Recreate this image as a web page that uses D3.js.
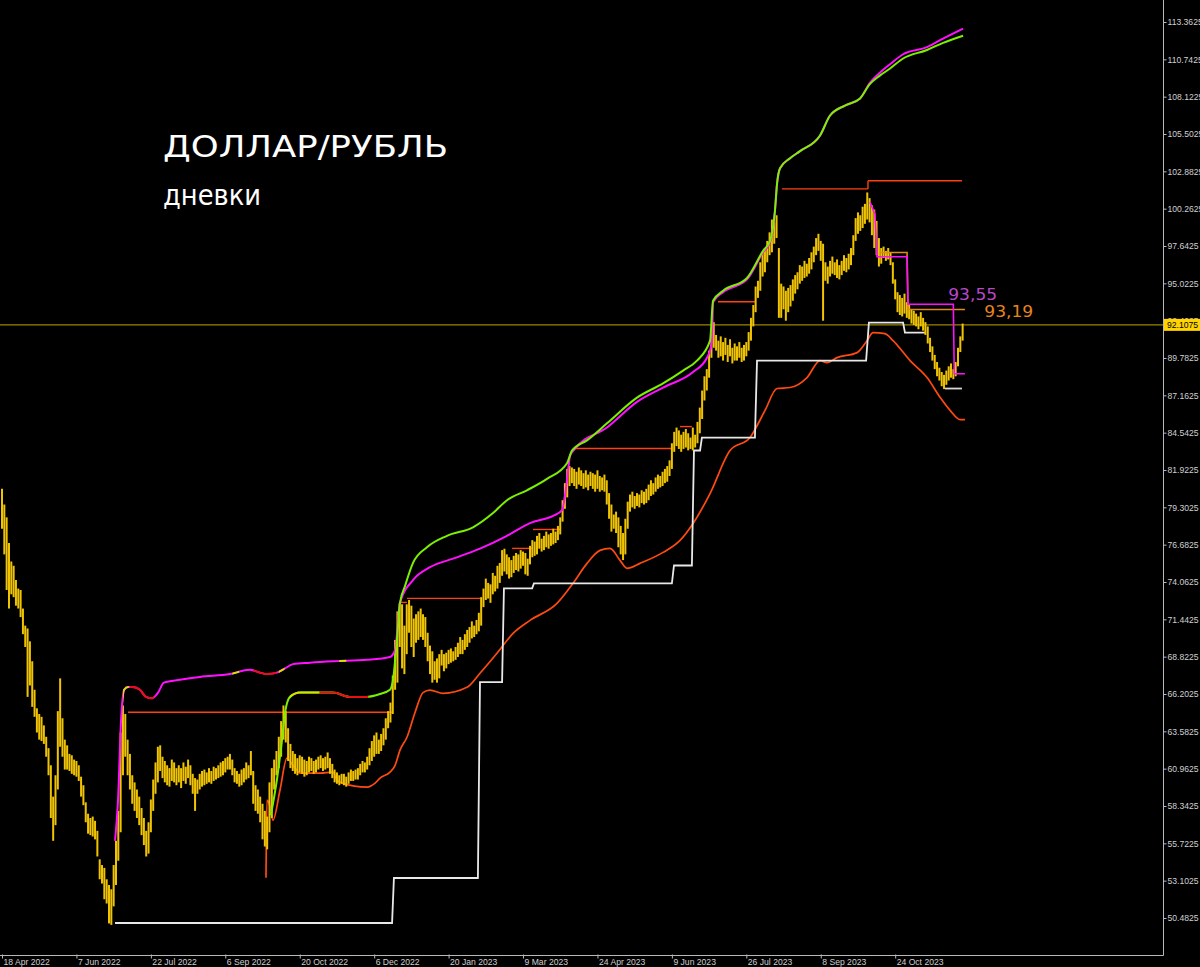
<!DOCTYPE html>
<html>
<head>
<meta charset="utf-8">
<script src="https://d3js.org/d3.v7.min.js"></script>
<style>
  body { margin: 0; background: #000; overflow: hidden; }
</style>
</head>
<body>
<script>
// daily bars, USD/RUB, 18 Apr 2022 .. early Dec 2023 (bar index 0..413)
const barHigh = [
  80.6, 79.5, 78.6, 76.8, 75.5, 75.2, 74.2, 73.6, 73.5, 72.2,
  71.0, 70.8, 69.9, 68.5, 66.5, 65.2, 64.8, 64.6, 64.0, 63.2,
  62.4, 61.2, 59.0, 60.5, 65.0, 67.3, 64.5, 63.0, 62.6, 62.0,
  61.9, 61.6, 61.5, 61.2, 60.4, 59.8, 58.6, 57.8, 57.5, 57.6,
  57.3, 56.6, 54.6, 54.2, 54.0, 53.2, 52.8, 52.5, 54.2, 55.9,
  58.0, 63.5, 65.4, 64.8, 63.0, 62.0, 60.5, 60.0, 59.5, 59.0,
  58.2, 57.5, 56.6, 57.2, 58.8, 60.2, 61.4, 62.5, 62.6, 61.8,
  61.5, 61.2, 61.0, 61.6, 61.4, 61.0, 61.2, 61.0, 61.4, 61.1,
  61.6, 61.2, 60.6, 60.3, 60.2, 60.6, 60.8, 60.9, 60.7, 61.0,
  60.8, 61.1, 61.0, 61.2, 61.4, 61.5, 61.7, 61.8, 62.0, 61.6,
  61.0, 60.8, 60.6, 60.9, 61.0, 61.4, 61.2, 62.2, 60.8, 59.8,
  59.5, 59.0, 58.5, 58.0, 57.6, 60.0, 61.0, 61.6, 62.2, 63.2,
  64.3, 65.4, 65.0, 63.8, 62.7, 62.2, 62.0, 61.7, 61.9, 61.8,
  61.6, 61.5, 61.8, 61.7, 61.5, 61.6, 61.8, 61.9, 61.7, 61.8,
  62.1, 61.7, 61.3, 60.9, 60.7, 60.5, 60.6, 60.6, 60.4, 60.7,
  60.9, 60.8, 60.9, 61.0, 61.3, 61.5, 61.4, 61.8, 62.4, 62.9,
  63.3, 63.5, 63.0, 63.4, 63.8, 64.5, 65.0, 65.6, 67.5, 70.0,
  72.0, 72.6, 72.5, 71.0, 72.5, 72.8, 72.4, 71.5, 71.8, 72.0,
  72.2, 71.8, 71.6, 70.5, 69.6, 69.2, 68.5, 68.7, 69.0, 69.3,
  69.0, 69.1, 69.3, 69.4, 69.2, 69.5, 69.8, 70.2, 70.0, 70.4,
  70.7, 70.9, 71.3, 71.0, 71.4, 71.9, 73.0, 73.6, 74.3, 74.0,
  73.9, 74.7, 74.5, 75.2, 75.4, 76.3, 76.4, 76.0, 75.8, 75.6,
  75.9, 76.1, 76.0, 76.3, 76.2, 76.1, 75.7, 76.6, 77.0, 76.9,
  77.3, 77.5, 77.1, 77.3, 77.6, 77.4, 77.5, 77.8, 77.6, 78.0,
  78.6, 79.8, 81.0, 82.0, 82.2, 82.1, 82.0, 81.8, 82.1, 81.9,
  81.7, 81.9, 81.6, 81.8, 81.7, 81.6, 81.9, 81.5, 81.4, 81.6,
  81.2, 80.3, 79.5, 78.8, 79.0, 78.6, 78.0, 77.5, 78.5, 79.7,
  80.2, 80.4, 80.1, 80.3, 80.2, 80.5, 80.4, 80.6, 80.9, 81.2,
  81.0, 81.4, 81.6, 81.5, 81.8, 82.0, 82.2, 82.6, 83.8, 84.6,
  84.9, 84.7, 84.4, 84.6, 84.8, 84.5, 84.2, 84.9, 84.4, 85.3,
  86.3, 87.5, 88.5, 89.0, 90.3, 91.5, 92.3, 91.4, 91.0, 91.3,
  90.9, 91.2, 90.7, 91.1, 90.5, 90.8, 90.6, 90.9, 90.5, 90.7,
  90.9, 91.6, 92.6, 93.5, 94.8, 95.2, 96.5, 97.2, 97.5, 98.0,
  98.6, 99.5, 99.3, 99.8, 97.5, 95.0, 94.8, 94.5, 94.7, 94.9,
  95.3, 95.6, 95.8, 96.3, 96.2, 96.6, 96.4, 96.8, 97.2, 97.6,
  98.2, 98.5, 98.0, 97.8, 96.5, 96.2, 96.6, 96.9, 96.5, 96.7,
  96.3, 96.6, 97.0, 96.8, 97.1, 97.5, 98.4, 99.6, 100.0, 99.8,
  100.4, 100.6, 101.4, 101.0, 100.5, 100.2, 99.4, 98.2, 97.5, 97.6,
  97.3, 97.5, 97.2, 96.5, 95.3, 94.4, 94.2, 94.0, 94.3, 93.7,
  93.5, 93.2, 93.1, 92.9, 92.7, 93.0, 92.6, 92.3, 92.0, 91.2,
  90.6, 90.0, 89.5, 89.1, 88.8, 88.6, 88.9, 89.2, 89.4, 89.0,
  89.5, 90.5, 91.3, 92.2
];
const barLow = [
  77.8, 76.0, 73.5, 72.2, 73.2, 73.0, 72.4, 72.2, 71.6, 70.4,
  69.5, 66.0, 66.8, 65.3, 64.6, 63.5, 63.0, 62.9, 62.7, 61.8,
  60.5, 57.5, 55.9, 57.0, 59.5, 62.5, 61.8, 60.9, 60.9, 60.8,
  60.6, 60.5, 60.4, 60.1, 59.0, 58.4, 57.2, 56.4, 56.3, 56.2,
  56.0, 54.8, 53.2, 52.9, 51.8, 51.5, 50.1, 50.0, 51.3, 52.8,
  54.5, 56.5, 60.5, 61.8, 60.5, 59.5, 58.5, 58.0, 57.5, 57.0,
  56.3, 55.6, 54.8, 55.0, 56.5, 58.0, 59.2, 60.0, 60.8, 60.3,
  60.0, 59.8, 59.7, 60.1, 60.0, 59.8, 60.0, 59.6, 60.1, 59.9,
  60.3, 59.8, 59.2, 58.0, 59.2, 59.5, 59.7, 59.8, 59.9, 60.0,
  59.9, 60.1, 60.2, 60.3, 60.4, 60.5, 60.7, 60.9, 60.9, 60.5,
  60.0, 59.9, 59.7, 59.8, 60.0, 60.2, 60.3, 60.5, 58.5, 58.0,
  57.8, 57.2, 56.0, 55.5, 55.3, 56.5, 57.5, 59.5, 60.5, 61.0,
  61.8, 63.0, 62.8, 61.5, 61.0, 60.8, 60.6, 60.5, 60.7, 60.6,
  60.4, 60.5, 60.7, 60.8, 60.6, 60.7, 60.9, 61.0, 60.8, 60.9,
  61.0, 60.6, 60.3, 60.0, 59.9, 59.8, 59.9, 59.8, 59.7, 59.9,
  60.1, 60.1, 60.2, 60.2, 60.5, 60.7, 60.7, 60.9, 61.2, 61.5,
  61.8, 62.0, 62.0, 62.2, 62.6, 63.0, 63.8, 64.2, 64.8, 66.5,
  67.0, 69.5, 68.0, 67.6, 69.0, 70.5, 69.5, 68.8, 69.8, 70.0,
  70.2, 70.0, 69.5, 68.5, 67.6, 67.0, 67.2, 67.0, 67.3, 68.2,
  67.8, 68.0, 68.3, 68.4, 68.5, 68.6, 68.8, 69.0, 69.0, 69.3,
  69.5, 69.8, 70.1, 70.2, 70.4, 70.6, 71.0, 72.3, 72.8, 72.9,
  72.6, 73.2, 73.4, 73.6, 74.0, 74.5, 74.8, 74.6, 74.3, 74.4,
  74.7, 74.9, 74.8, 75.0, 75.2, 74.6, 74.5, 75.3, 75.8, 75.9,
  76.0, 76.4, 76.2, 76.3, 76.5, 76.4, 76.6, 76.7, 76.8, 77.0,
  77.4, 78.3, 79.2, 80.0, 80.8, 81.0, 80.8, 80.6, 80.9, 80.8,
  80.6, 80.7, 80.5, 80.8, 80.6, 80.4, 80.6, 80.4, 80.5, 80.4,
  79.5, 78.5, 77.6, 77.8, 77.5, 76.5, 76.0, 75.6, 76.0, 77.8,
  79.0, 79.3, 79.2, 79.4, 79.3, 79.6, 79.5, 79.6, 79.8, 80.1,
  80.2, 80.4, 80.6, 80.7, 80.8, 81.0, 81.1, 81.5, 82.0, 83.2,
  83.6, 83.4, 83.2, 83.4, 83.5, 83.3, 83.4, 83.3, 83.5, 83.8,
  84.5, 85.5, 86.8, 87.5, 88.4, 89.8, 90.5, 90.3, 89.8, 89.9,
  89.6, 90.0, 89.5, 89.9, 89.4, 89.6, 89.6, 89.8, 89.5, 89.6,
  89.9, 90.3, 91.0, 92.0, 93.0, 94.0, 94.5, 95.5, 95.8, 96.5,
  97.0, 97.2, 97.8, 98.2, 92.6, 92.6, 93.2, 92.4, 93.0, 93.4,
  93.8, 94.3, 94.6, 95.0, 95.2, 95.4, 95.5, 95.7, 96.0, 96.5,
  97.0, 97.3, 96.6, 92.4, 95.2, 95.0, 95.5, 95.7, 95.6, 95.4,
  95.3, 95.6, 95.9, 95.8, 96.0, 96.3, 97.0, 98.0, 98.5, 98.7,
  98.9, 99.2, 99.5, 99.3, 98.4, 97.5, 97.0, 96.2, 96.4, 96.8,
  96.6, 96.7, 96.3, 95.0, 93.9, 93.0, 92.8, 92.7, 92.9, 92.6,
  92.5, 92.2, 92.1, 92.0, 91.8, 92.0, 91.7, 91.4, 90.8, 90.2,
  89.6, 89.0, 88.5, 88.2, 87.8, 87.6, 87.9, 88.2, 88.4, 88.3,
  88.5, 89.2, 90.2, 91.0
];
const lastPrice = 92.1075;

// indicator lines: [bar index, price]
const greenBand = [
  [115.6, 57.7], [118.2, 60.2], [120.4, 63.0], [121.7, 64.9], [123.8, 66.0],
  [128.1, 66.3], [136.7, 66.3], [142.3, 66.3], [149.6, 66.0], [156.9, 66.0],
  [162.5, 66.2], [166.8, 66.5], [168.1, 67.2], [169.8, 70.0], [171.1, 72.6],
  [173.3, 73.8], [176.7, 75.4], [182.7, 76.5], [191.3, 77.3], [202.5, 77.9],
  [211.1, 78.9], [217.1, 79.8], [225.7, 80.5], [234.3, 81.3], [242.9, 82.4],
  [245.1, 83.3], [251.5, 84.0], [260.1, 85.2], [273.0, 87.0], [284.2, 88.0],
  [292.8, 88.9], [298.8, 89.6], [304.4, 91.0], [305.7, 93.8], [310.0, 94.5],
  [320.3, 95.4], [327.2, 97.3], [330.2, 98.0], [332.3, 100.1], [333.2, 102.0],
  [334.5, 103.1], [338.8, 103.8], [343.1, 104.3], [351.7, 105.4], [356.0, 106.8],
  [362.4, 107.5], [368.9, 108.0], [373.1, 109.0], [377.4, 109.6], [381.8, 110.1],
  [387.4, 110.8], [397.7, 111.4], [404.6, 111.9], [413.2, 112.4]
];
const magentaBand = [
  [48.6, 55.9], [49.9, 58.8], [51.2, 64.4], [52.5, 66.5], [54.2, 66.7],
  [56.3, 66.7], [59.3, 66.5], [61.9, 66.0], [64.5, 65.9], [67.1, 66.3],
  [69.6, 67.0], [76.5, 67.2], [85.1, 67.4], [98.0, 67.6], [106.6, 67.9],
  [110.9, 67.7], [113.9, 67.6], [118.2, 67.7], [121.7, 68.0], [125.1, 68.3],
  [132.4, 68.4], [142.3, 68.5], [156.9, 68.6], [166.8, 68.8], [169.0, 69.3],
  [171.1, 72.6], [176.7, 74.2], [184.0, 75.1], [193.9, 75.7], [205.5, 76.4],
  [217.1, 77.3], [227.0, 78.2], [236.9, 78.7], [240.8, 79.1], [242.9, 81.2],
  [244.2, 82.9], [246.3, 83.4], [260.1, 84.9], [273.0, 86.7], [284.2, 87.7],
  [297.1, 88.8], [303.1, 89.8], [305.2, 90.9], [305.7, 93.7], [310.0, 94.4],
  [320.3, 95.3], [327.2, 97.2], [330.2, 97.9], [332.3, 100.1], [333.2, 102.0],
  [334.5, 103.1], [338.8, 103.8], [343.1, 104.3], [351.7, 105.4], [356.0, 106.8],
  [362.4, 107.5], [368.9, 108.0], [373.1, 109.1], [377.4, 109.8], [381.8, 110.4],
  [387.4, 111.1], [397.7, 111.6], [404.6, 112.2], [413.2, 112.9]
];
// colour state of the bands (falling = red, flat = yellow)
const greenFlatSpans = [[123.8, 136.5]];
const greenFallSpans = [[136.5, 157.5]];
const magentaFlatSpans = [[52.0, 54.5], [99.0, 102.0], [119.0, 121.5], [145.0, 148.0]];
const magentaFallSpans = [[55.0, 65.5], [108.0, 118.0]];

const lowerBand = [
  [113.5, 53.3], [113.9, 58.75], [114.8, 58.54], [116.5, 57.35], [119.5, 59.45],
  [122.5, 61.7], [124.2, 61.4], [126.0, 61.0], [128.1, 60.65], [136.7, 60.65],
  [142.3, 60.72], [144.0, 60.16], [146.2, 59.95], [156.9, 59.67], [160.4, 59.95],
  [162.5, 60.3], [166.8, 60.72], [169.0, 61.2], [171.1, 62.26], [174.1, 63.17],
  [177.6, 64.92], [181.0, 66.3], [184.0, 66.47], [189.6, 66.25], [199.9, 66.67],
  [205.5, 67.66], [212.8, 69.06], [219.7, 70.46], [227.0, 71.37], [238.6, 72.56],
  [245.5, 73.97], [251.5, 75.37], [257.1, 76.28], [261.4, 76.42], [265.7, 75.58],
  [268.7, 75.02], [274.3, 75.37], [284.2, 76.14], [291.5, 76.98], [297.1, 78.17],
  [304.4, 80.27], [313.0, 83.29], [321.6, 84.2], [328.0, 86.09], [333.2, 87.64],
  [338.8, 87.71], [346.1, 88.41], [351.7, 89.6], [354.7, 89.46], [359.0, 89.81],
  [367.6, 90.16], [371.9, 91.0], [374.5, 91.56], [379.6, 91.49], [383.1, 91.0],
  [390.4, 89.6], [397.7, 88.41], [403.4, 87.0], [407.7, 86.09], [411.9, 85.46],
  [414.0, 85.46]
];

const supportSteps = [
  [48.6, 50.13], [167.7, 50.13], [168.5, 53.29], [204.6, 53.29], [205.5, 67.03],
  [215.0, 67.03], [215.8, 73.62], [227.9, 73.62], [228.7, 73.97], [288.0, 73.97],
  [288.9, 75.22], [296.6, 75.22], [297.5, 83.29], [300.1, 83.29], [300.9, 84.2],
  [323.7, 84.2], [324.6, 89.6], [371.5, 89.6], [372.7, 92.26], [387.4, 92.26],
  [388.2, 91.56], [396.8, 91.56]
];
const supportLast = [[405.4, 87.64], [412.7, 87.64]];

// resistance levels: [from index, to index, price]
const resistLevels = [
  [54.2, 167.7, 64.92], [171.1, 174.1, 72.63], [174.1, 205.5, 72.91],
  [219.3, 227.9, 76.42], [228.3, 239.9, 77.75], [246.3, 288.0, 83.43],
  [291.5, 296.6, 84.97], [307.8, 323.7, 93.73], [335.3, 372.3, 101.65],
  [372.3, 412.7, 102.22]
];

const orangeSteps = [[377.5, 97.19], [389.1, 97.19], [389.5, 93.19], [414.0, 93.19]];
const pinkSteps = [
  [373.2, 100.7], [375.3, 99.9], [376.2, 96.89], [389.1, 96.89], [389.5, 93.55],
  [409.0, 93.55], [409.4, 88.68], [414.0, 88.68]
];
const levelNotes = [
  { text: "93,55", at: 406.8, value: 93.55, dy: -4, kind: "pink" },
  { text: "93,19", at: 422.3, value: 93.19, dy: 8, kind: "orange" }
];

const yTicks = [
  50.4825, 53.1025, 55.7225, 58.3425, 60.9625, 63.5825, 66.2025, 68.8225,
  71.4425, 74.0625, 76.6825, 79.3025, 81.9225, 84.5425, 87.1625, 89.7825,
  92.4025, 95.0225, 97.6425, 100.2625, 102.8825, 105.5025, 108.1225,
  110.7425, 113.3625
];
const xTickIdx = [0, 32, 64, 96, 128, 160, 192, 224, 256, 288, 320, 352, 384];
const xTickLabels = [
  "18 Apr 2022", "7 Jun 2022", "22 Jul 2022", "6 Sep 2022", "20 Oct 2022",
  "6 Dec 2022", "20 Jan 2023", "9 Mar 2023", "24 Apr 2023", "9 Jun 2023",
  "26 Jul 2023", "8 Sep 2023", "24 Oct 2023"
];

// ---- layout
const W = 1200, H = 967;
const plotW = 1163, plotH = 955;

const svg = d3.select("body").append("svg")
  .attr("width", W)
  .attr("height", H)
  .style("background", "#000");

const x = d3.scaleLinear().domain([0, 413]).range([2, 2 + 413 * 2.326]);
const y = d3.scaleLinear().domain([50.4825, 113.3625]).range([918, 22]);

const defs = svg.append("defs");
defs.append("clipPath").attr("id", "plotclip")
  .append("rect").attr("x", 0).attr("y", 0).attr("width", plotW).attr("height", plotH);

const plot = svg.append("g").attr("clip-path", "url(#plotclip)");
const line = d3.line().x(d => x(d[0])).y(d => y(d[1]));
const curve = d3.line().x(d => x(d[0])).y(d => y(d[1])).curve(d3.curveMonotoneX);

// current price line
plot.append("line")
  .attr("x1", 0).attr("x2", plotW)
  .attr("y1", y(lastPrice)).attr("y2", y(lastPrice))
  .attr("stroke", "#9a8600").attr("stroke-width", 1.2);

// lower band + support
plot.append("path").datum(lowerBand).attr("d", curve)
  .attr("fill", "none").attr("stroke", "#ff4a10").attr("stroke-width", 1.7);
plot.append("path").datum(supportSteps).attr("d", line)
  .attr("fill", "none").attr("stroke", "#e8e8e8").attr("stroke-width", 1.8);
plot.append("path").datum(supportLast).attr("d", line)
  .attr("fill", "none").attr("stroke", "#d8d8d8").attr("stroke-width", 1.8);

// resistance levels
plot.append("g").selectAll("line").data(resistLevels).join("line")
  .attr("x1", d => x(d[0])).attr("x2", d => x(d[1]))
  .attr("y1", d => y(d[2])).attr("y2", d => y(d[2]))
  .attr("stroke", "#ff4010").attr("stroke-width", 1.4);
plot.append("line")
  .attr("x1", x(372.3)).attr("x2", x(372.3))
  .attr("y1", y(101.65)).attr("y2", y(102.22))
  .attr("stroke", "#ff4010").attr("stroke-width", 1.4);

// price bars
plot.append("g").selectAll("line").data(barHigh).join("line")
  .attr("x1", (d, i) => x(i)).attr("x2", (d, i) => x(i))
  .attr("y1", d => y(d)).attr("y2", (d, i) => y(barLow[i]))
  .attr("stroke", "#f0c400").attr("stroke-width", 2);

// step lines on the right
plot.append("path").datum(orangeSteps).attr("d", line)
  .attr("fill", "none").attr("stroke", "#e08a1c").attr("stroke-width", 1.6);
plot.append("path").datum(pinkSteps).attr("d", line)
  .attr("fill", "none").attr("stroke", "#ff10ff").attr("stroke-width", 1.6);

// upper bands with coloured spans
function drawBand(data, base, flatSpans, fallSpans, key) {
  plot.append("path").datum(data).attr("d", curve)
    .attr("fill", "none").attr("stroke", base).attr("stroke-width", 2);
  const spans = flatSpans.map(s => [s, "#d8e000"]).concat(fallSpans.map(s => [s, "#e81010"]));
  spans.forEach((s, k) => {
    const id = key + k;
    defs.append("clipPath").attr("id", id).append("rect")
      .attr("x", x(s[0][0])).attr("width", x(s[0][1]) - x(s[0][0]))
      .attr("y", 0).attr("height", plotH);
    plot.append("path").datum(data).attr("d", curve)
      .attr("clip-path", "url(#" + id + ")")
      .attr("fill", "none").attr("stroke", s[1]).attr("stroke-width", 2);
  });
}
drawBand(magentaBand, "#ff10ff", magentaFlatSpans, magentaFallSpans, "mg");
drawBand(greenBand, "#7cf000", greenFlatSpans, greenFallSpans, "gr");

// ---- axes / frame
svg.append("line").attr("x1", plotW + 0.5).attr("x2", plotW + 0.5)
  .attr("y1", 0).attr("y2", plotH + 0.5).attr("stroke", "#b8b8b8");
svg.append("line").attr("x1", 0).attr("x2", plotW + 0.5)
  .attr("y1", plotH + 0.5).attr("y2", plotH + 0.5).attr("stroke", "#b8b8b8");

const yAxis = svg.append("g")
  .attr("transform", "translate(" + (plotW + 0.5) + ",0)")
  .call(d3.axisRight(y).tickValues(yTicks).tickFormat(d3.format(".4f")).tickSize(3).tickPadding(1));
yAxis.select(".domain").remove();
yAxis.selectAll("line").attr("stroke", "#b8b8b8");
yAxis.selectAll("text")
  .attr("fill", "#d0d0d0")
  .style("font-family", "'Liberation Sans', Arial, sans-serif")
  .style("font-size", "8.6px");

const xAxis = svg.append("g")
  .attr("transform", "translate(0," + (plotH + 0.5) + ")")
  .call(d3.axisBottom(x).tickValues(xTickIdx).tickFormat((d, i) => xTickLabels[i]).tickSize(0));
xAxis.select(".domain").remove();
xAxis.selectAll(".tick line")
  .attr("y1", -1).attr("y2", 3).attr("stroke", "#b8b8b8");
xAxis.selectAll("text")
  .attr("text-anchor", "start")
  .attr("x", 1).attr("y", 3).attr("dy", "0.71em")
  .attr("fill", "#d0d0d0")
  .style("font-family", "'Liberation Sans', Arial, sans-serif")
  .style("font-size", "8.6px");

// last price badge
const badge = svg.append("g").attr("transform", "translate(" + (plotW + 1) + "," + y(lastPrice) + ")");
badge.append("rect").attr("x", 0).attr("y", -6).attr("width", 37).attr("height", 12).attr("fill", "#ffd400");
badge.append("text").attr("x", 3).attr("y", 0).attr("dy", "0.35em")
  .attr("fill", "#000")
  .style("font-family", "'Liberation Sans', Arial, sans-serif")
  .style("font-size", "8.6px")
  .text(d3.format(".4f")(lastPrice));

// ---- handwritten notes
svg.append("text")
  .attr("x", 163).attr("y", 157)
  .attr("textLength", 285).attr("lengthAdjust", "spacingAndGlyphs")
  .attr("fill", "#fff")
  .style("font-family", "'DejaVu Sans', sans-serif")
  .style("font-size", "31px")
  .text("ДОЛЛАР/РУБЛЬ");
svg.append("text")
  .attr("x", 163).attr("y", 205)
  .attr("textLength", 98).attr("lengthAdjust", "spacingAndGlyphs")
  .attr("fill", "#fff")
  .style("font-family", "'DejaVu Sans', sans-serif")
  .style("font-size", "28px")
  .text("дневки");

svg.append("g").selectAll("text").data(levelNotes).join("text")
  .attr("x", d => x(d.at)).attr("y", d => y(d.value) + d.dy)
  .attr("textLength", 49).attr("lengthAdjust", "spacingAndGlyphs")
  .attr("fill", d => d.kind === "pink" ? "#b848c8" : "#e8841e")
  .style("font-family", "'DejaVu Sans', sans-serif")
  .style("font-size", "16px")
  .text(d => d.text);
</script>
</body>
</html>
